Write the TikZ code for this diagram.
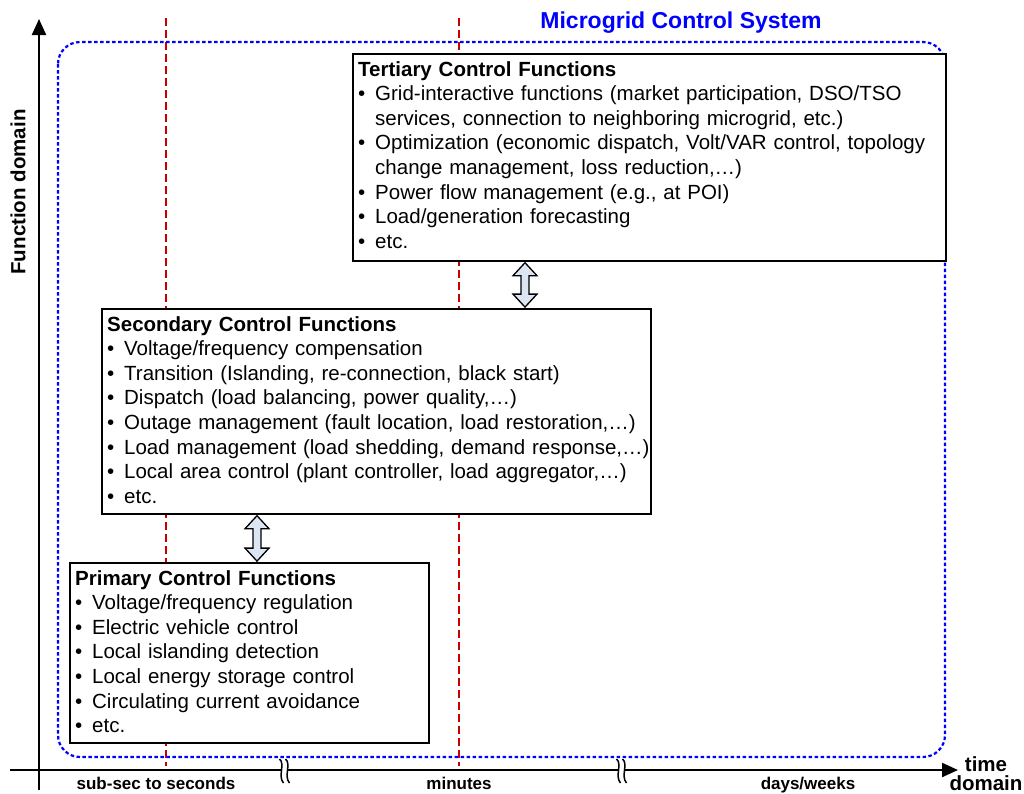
\documentclass[tikz,border=0pt]{standalone}
\usepackage{fontspec}
\setmainfont{Liberation Sans}
\usetikzlibrary{arrows.meta,calc}
\definecolor{rdash}{RGB}{200,0,0}
\definecolor{arrfill}{RGB}{220,230,242}
\newcommand{\bl}{\makebox[17pt][l]{\textbullet}}
\newcommand{\cont}{\hspace*{17pt}}
\begin{document}
\begin{tikzpicture}[x=1pt,y=-1pt,
 box/.style={draw=black,line width=1.8pt,fill=white,inner sep=0pt,anchor=north west},
 boxtext/.style={anchor=north west,inner xsep=6pt,inner ysep=0pt,align=left,font=\fontsize{20.5}{24.6}\selectfont},
 reddash/.style={draw=rdash,line width=1.4pt,dash pattern=on 8pt off 4pt},
 bluedot/.style={draw=blue,line width=2.2pt,dash pattern=on 3.5pt off 2.5pt,rounded corners=22pt},
 axis/.style={draw=black,line width=2.2pt,-{Triangle[length=16pt,width=14pt]}},
 axlabel/.style={font=\bfseries\fontsize{17}{20}\selectfont,anchor=base,inner sep=0pt},
 darrow/.style={draw=black,line width=1.3pt,fill=arrfill,line join=miter},
 brk/.style={draw=black,line width=1.5pt},
]
\useasboundingbox (0,0) rectangle (1024,793);

% red dashed time boundaries
\draw[reddash] (166,18) -- (166,766);
\draw[reddash] (459,18) -- (459,766);

% microgrid control system frame
\draw[bluedot] (58,42) rectangle (945,757);
\node[font=\bfseries\fontsize{23}{27}\selectfont,text=blue,anchor=base,inner sep=0pt] (title) at (681,28) {Microgrid Control System};

% boxes
\node[box,minimum width=593pt,minimum height=207pt] (ter) at (352,53) {};
\node[boxtext,text width=620pt] (terT) at ([yshift=-8pt]ter.north west) {%
\textbf{Tertiary Control Functions}\\
\bl Grid-interactive functions (market participation, DSO/TSO\\
\cont services, connection to neighboring microgrid, etc.)\\
\bl Optimization (economic dispatch, Volt/VAR control, topology\\
\cont change management, loss reduction,…)\\
\bl Power flow management (e.g., at POI)\\
\bl Load/generation forecasting\\
\bl etc.};

\node[box,minimum width=549pt,minimum height=205pt] (sec) at (101,308) {};
\node[boxtext,text width=580pt] (secT) at ([yshift=-8pt]sec.north west) {%
\textbf{Secondary Control Functions}\\
\bl Voltage/frequency compensation\\
\bl Transition (Islanding, re-connection, black start)\\
\bl Dispatch (load balancing, power quality,…)\\
\bl Outage management (fault location, load restoration,…)\\
\bl Load management (load shedding, demand response,…)\\
\bl Local area control (plant controller, load aggregator,…)\\
\bl etc.};

\node[box,minimum width=359pt,minimum height=180pt] (pri) at (69,562) {};
\node[boxtext,text width=380pt] (priT) at ([yshift=-8pt]pri.north west) {%
\textbf{Primary Control Functions}\\
\bl Voltage/frequency regulation\\
\bl Electric vehicle control\\
\bl Local islanding detection\\
\bl Local energy storage control\\
\bl Circulating current avoidance\\
\bl etc.};

% double arrows between levels
\coordinate (c1) at (525,0);
\coordinate (c2) at (257,0);
\coordinate (a1t) at ([yshift=-0.9pt]ter.south -| c1);
\coordinate (a1b) at ([yshift=0.9pt]sec.north -| c1);
\coordinate (a2t) at ([yshift=-0.9pt]sec.south -| c2);
\coordinate (a2b) at ([yshift=0.9pt]pri.north -| c2);
\newcommand{\dblarrow}[2]{%
 \draw[darrow] (#1) -- ++(12,13) -- ++(-8,0) -- ($(#2)+(4,-13)$) -- ++(8,0) -- (#2)
   -- ++(-12,-13) -- ++(8,0) -- ($(#1)+(-4,13)$) -- ++(-8,0) -- cycle;}
\dblarrow{a1t}{a1b}
\dblarrow{a2t}{a2b}

% axes
\coordinate (yo) at (39,790);
\coordinate (yt) at (39,19);
\coordinate (xo) at (10,770);
\coordinate (xt) at (958,770);
\draw[axis] (yo) -- (yt);
\draw[axis] (xo) -- (xt);

% axis breaks
\fill[white] (282,764) rectangle (286.5,776);
\draw[brk] (279.5,759) .. controls (285.5,764) and (277.5,776) .. (283.5,783);
\draw[brk] (285.5,759) .. controls (291.5,764) and (283.5,776) .. (289.5,783);
\fill[white] (619,764) rectangle (623.5,776);
\draw[brk] (616.5,759) .. controls (622.5,764) and (614.5,776) .. (620.5,783);
\draw[brk] (622.5,759) .. controls (628.5,764) and (620.5,776) .. (626.5,783);

% axis labels
\node[axlabel] (l1) at (156,789) {sub-sec to seconds};
\node[axlabel] (l2) at (459,789) {minutes};
\node[axlabel] (l3) at (808,789) {days/weeks};
\node[font=\bfseries\fontsize{20.5}{19}\selectfont,align=center,anchor=north,inner sep=0pt] (xl) at (986,756) {time\\domain};
\node[font=\bfseries\fontsize{20.5}{24}\selectfont,rotate=90,inner sep=0pt] (yl) at (18,192) {Function domain};
\end{tikzpicture}
\end{document}
